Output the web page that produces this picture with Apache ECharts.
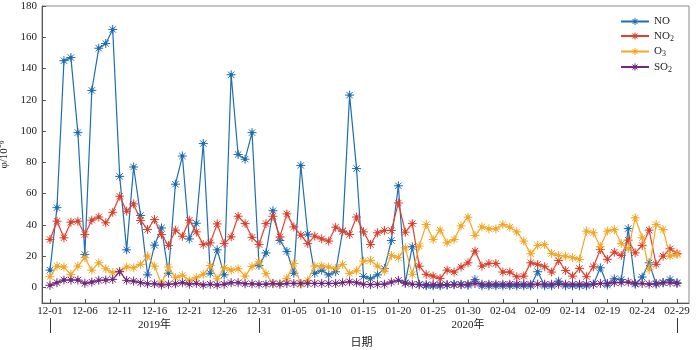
<!DOCTYPE html>
<html>
<head>
<meta charset="utf-8">
<script src="https://cdn.jsdelivr.net/npm/echarts@6/dist/echarts.min.js"></script>
<style>html,body{margin:0;padding:0;background:#fff}#c{width:700px;height:350px}</style>
</head>
<body>
<div id="c"></div>
<script>
// Daily values, 2019-12-01 .. 2020-02-29 (91 days)
const NO = [11,51,145,147,99,21,126,153,156,165,
  71,24,77,46,8,27,38,9,66,84,
  31,41,92,9,24,8,136,85,82,99,
  14,22,49,30,23,9,78,34,9,11,
  8,10,36,123,76,7,5.5,8,12,30,
  65,3,26,2,1,1,1,1.5,2,2,
  1.3,5,1,1,1,1,1,1,1,1,
  10,1,1,4,1,1,1,1,2,12.5,
  1.5,5.5,5,37.6,2,6.6,15.7,2,3,5,
  3];
const NO2 = [30.6,42.3,31.7,41.7,42.3,33.8,43,45,41.3,48,
  58.3,48.7,53.4,42.8,37,43.4,33.8,26.8,36.6,32.7,
  43,35.5,27.4,28.5,40.6,28,32.3,45.5,40.8,32,
  27.4,40.8,45.5,32.3,47,38.7,33.4,28,32.8,31,
  29.6,38.5,36,33.8,45,35.5,27.4,34.9,36.4,36.4,
  54,35.3,40.8,13.6,8.3,7.2,5.7,11,9.8,13,
  15.7,23.2,13.6,15.3,15.3,9.8,9.8,6.8,7.2,15.7,
  14.7,13.2,9.8,17.2,10.8,7.2,12.1,6.8,13.2,24.2,
  17.9,22.5,20.4,30.2,22.1,26.8,36.6,14.7,20,24.7,
  21.7];
const O3 = [6.8,13.6,13,8.3,13.6,19,11,15.7,11.9,9.4,
  10.4,13,12.5,14.7,20,13.6,2.3,13,6.2,7.7,
  4.5,6.2,8.3,14,5.5,12.5,11,11.9,7.2,13.4,
  16.4,8.7,2.3,2.3,5.7,15.3,1.9,4.5,13.6,13.8,
  13,12.1,14.7,8.9,10.6,16.8,17.2,13.6,10.4,20.4,
  19,25.3,8.3,26.4,40.2,30.6,36.6,28.5,30.6,39.3,
  44.9,33.2,38.7,37.4,37.4,40.2,38.5,35.5,29.6,21.5,
  26.8,27.4,21.7,20.4,20,19,17.9,36,34.9,26,
  36,37,28,24.7,44.5,31.7,11.5,40.2,37,20,
  21];
const SO2 = [1.3,3,4.7,4.7,4.7,2.6,3.4,4.5,4.7,5.1,
  10,4.5,4,3,2.3,2.3,1.5,2,2.3,3,
  2,2.6,1.5,2,1.5,2,3,3,2.3,2.3,
  2,2,2.5,2,2.5,2.5,2.5,2.5,2.5,2.5,
  2.5,2.5,3,3.6,3,2,1.7,2,2,3.4,
  4.5,2.6,2,1.7,1.7,1.7,1.7,1.7,1.7,1.7,
  2,2.5,2,2,2,2,2,2,2,2,
  2,2,2,2,2,2,2,2,2,2.5,
  2.5,3,3,3.4,2.5,2.5,2,2.5,3,3,
  2.5];
const seriesNames = ['NO','NO2','O3','SO2'];
const legendLabels = {NO:'NO', NO2:'NO{s|2}', O3:'O{s|3}', SO2:'SO{s|2}'};
const yTicks = [0,20,40,60,80,100,120,140,160,180];
const xTickIdx = [0,5,10,15,20,25,30,35,40,45,50,55,60,65,70,75,80,85,90];
const yearLabels = ['2019年','2020年'];
const yearLabelIdx = [15,60];
const yearSepIdx = [0,30,90];

// date labels
const monthDefs = [['12',31],['01',31],['02',29]];
const dates = [];
monthDefs.forEach(([m,n])=>{for(let d=1;d<=n;d++){dates.push(m+'-'+(d<10?'0'+d:''+d));}});

const colors = ['#1f6db3','#e0402c','#f5a623','#73287f'];
const star = 'path://M0,-5L0,5M-5,0L5,0M-3.54,-3.54L3.54,3.54M-3.54,3.54L3.54,-3.54M-1.6,0A1.6,1.6,0,1,0,1.6,0A1.6,1.6,0,1,0,-1.6,0Z';
const FONT = "'Liberation Serif','Noto Sans CJK SC',serif";
const XMIN = -1.15, XMAX = 91.72;

const chart = echarts.init(document.getElementById('c'), null, {renderer:'canvas'});
const dataArr = [NO,NO2,O3,SO2];
chart.setOption({
  animation:false,
  backgroundColor:'#fff',
  grid:{left:42,right:11,top:6,bottom:47,containLabel:false,outerBoundsMode:'none',show:true,borderColor:'#888',borderWidth:1,backgroundColor:'transparent'},
  legend:{
    orient:'vertical', left:620, top:16, itemWidth:28, itemHeight:9, itemGap:3.5, padding:0,
    data:seriesNames,
    formatter:n=>legendLabels[n],
    itemStyle:{borderWidth:1,borderColor:'inherit'},
    textStyle:{fontFamily:FONT,fontSize:11,color:'#222',rich:{s:{fontFamily:FONT,fontSize:8,color:'#222',padding:[5,0,0,0]}}}
  },
  xAxis:[{
    type:'value', min:XMIN, max:XMAX,
    axisLine:{show:true,onZero:false,lineStyle:{color:'#555',width:1}},
    axisTick:{show:true,inside:true,length:4,customValues:xTickIdx,lineStyle:{color:'#555'}},
    axisLabel:{customValues:xTickIdx,formatter:v=>dates[Math.round(v)],fontFamily:FONT,fontSize:11,color:'#222',margin:3},
    splitLine:{show:false},
    name:'日期', nameLocation:'middle', nameGap:33,
    nameTextStyle:{fontFamily:"'Noto Sans CJK SC',sans-serif",fontSize:11,color:'#222',padding:[0,8,0,0]}
  },{
    type:'value', min:XMIN, max:XMAX, position:'bottom', offset:15,
    axisLine:{show:false,onZero:false},
    axisTick:{show:true,inside:false,length:15,customValues:yearSepIdx,lineStyle:{color:'#333'}},
    axisLabel:{customValues:yearLabelIdx,formatter:v=>yearLabels[yearLabelIdx.indexOf(Math.round(v))],fontFamily:FONT,fontSize:11,color:'#222',margin:2},
    splitLine:{show:false}
  }],
  yAxis:{
    type:'value', min:-10, max:180,
    axisLine:{show:true,onZero:false,lineStyle:{color:'#555',width:1}},
    axisTick:{show:true,inside:true,length:4,customValues:yTicks,lineStyle:{color:'#555'}},
    axisLabel:{customValues:yTicks,fontFamily:FONT,fontSize:11,color:'#222',margin:5},
    splitLine:{show:false},
    name:'φ/10⁻⁹', nameLocation:'middle', nameGap:24, nameRotate:90,
    nameTextStyle:{fontFamily:FONT,fontSize:11,color:'#222'}
  },
  series:seriesNames.map((n,k)=>({
    name:n, type:'line', xAxisIndex:0,
    data:dataArr[k].map((v,i)=>[i,v]),
    symbol:star, symbolSize:9, showSymbol:true,
    lineStyle:{width:1.2,color:colors[k]},
    itemStyle:{color:colors[k],borderColor:colors[k],borderWidth:1},
    z:2+k
  }))
});
</script>
</body>
</html>
